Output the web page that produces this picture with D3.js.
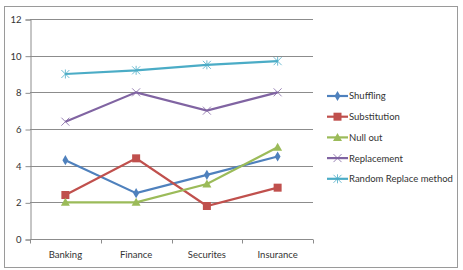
<!DOCTYPE html>
<html>
<head>
<meta charset="utf-8">
<script src="https://cdn.jsdelivr.net/npm/d3@7"></script>
<style>
 body { margin:0; background:#fff; }
 svg text { font-family:Lato, "Open Sans", sans-serif; font-size:9.5px; fill:#333; }
</style>
</head>
<body>
<svg width="463" height="270"></svg>
<script>
const categories = ["Banking", "Finance", "Securites", "Insurance"];
const shuffling = [4.3, 2.5, 3.5, 4.5];
const substitution = [2.4, 4.4, 1.8, 2.8];
const nullOut = [2, 2, 3, 5];
const replacement = [6.4, 8, 7, 8];
const randomReplace = [9, 9.2, 9.5, 9.7];
const yTicks = [0, 2, 4, 6, 8, 10, 12];

const series = [
	{name:"Shuffling", values:shuffling, color:"#4F81BD", marker:"diamond"},
	{name:"Substitution", values:substitution, color:"#C0504D", marker:"square"},
	{name:"Null out", values:nullOut, color:"#9BBB59", marker:"triangle"},
	{name:"Replacement", values:replacement, color:"#8064A2", marker:"x"},
	{name:"Random Replace method", values:randomReplace, color:"#4BACC6", marker:"star"}
];

const svg = d3.select("svg");
const plot = {left:30, right:313, top:19, bottom:239};

// chart border
svg.append("rect")
	.attr("x", 4.5).attr("y", 6.5).attr("width", 453).attr("height", 261)
	.attr("fill", "none").attr("stroke", "#9a9a9a").attr("stroke-width", 1);

const x = d3.scaleBand().domain(categories).range([plot.left, plot.right]);
const y = d3.scaleLinear().domain([0, 12]).range([plot.bottom, plot.top]);

// gridlines
svg.append("g").selectAll("line").data(yTicks.filter(d => d > 0)).join("line")
	.attr("x1", plot.left).attr("x2", plot.right)
	.attr("y1", d => Math.round(y(d)) + 0.5).attr("y2", d => Math.round(y(d)) + 0.5)
	.attr("stroke", "#8c8c8c");

// y axis
const yAxis = svg.append("g").attr("transform", `translate(${plot.left + 0.5},0.5)`)
	.call(d3.axisLeft(y).tickValues(yTicks).tickSize(5).tickPadding(4));
yAxis.select(".domain").attr("stroke", "#8c8c8c");
yAxis.selectAll(".tick line").attr("stroke", "#8c8c8c");
yAxis.selectAll(".tick text").attr("font-size", null).attr("font-family", null);

// x axis with boundary ticks
const xAxis = svg.append("g").attr("transform", `translate(0,${plot.bottom + 0.5})`);
xAxis.append("line").attr("x1", plot.left).attr("x2", plot.right).attr("stroke", "#8c8c8c");
const bounds = categories.map(c => x(c)).concat([plot.right]);
xAxis.selectAll("line.tk").data(bounds).join("line").attr("class", "tk")
	.attr("x1", d => Math.round(d) + 0.5).attr("x2", d => Math.round(d) + 0.5)
	.attr("y1", 0).attr("y2", 4).attr("stroke", "#8c8c8c");
xAxis.selectAll("text").data(categories).join("text")
	.attr("x", d => x(d) + x.bandwidth() / 2).attr("y", 18)
	.attr("text-anchor", "middle").text(d => d);

function drawMarker(g, type, color) {
	if (type === "diamond") {
		g.append("path").attr("d", d3.symbol(d3.symbolDiamond, 30)()).attr("fill", color);
	} else if (type === "square") {
		g.append("rect").attr("x", -4).attr("y", -4).attr("width", 8).attr("height", 8).attr("fill", color);
	} else if (type === "triangle") {
		g.append("path").attr("d", "M0,-4.5L4.5,3.5L-4.5,3.5Z").attr("fill", color);
	} else if (type === "x") {
		g.append("path").attr("d", "M-4,-4L4,4M-4,4L4,-4").attr("stroke", color).attr("stroke-width", 0.8).attr("fill", "none");
	} else {
		g.append("path").attr("d", "M-4,-4L4,4M-4,4L4,-4M0,-4.5L0,4.5").attr("stroke", color).attr("stroke-width", 0.8).attr("fill", "none");
	}
}

const line = d3.line().x((d, i) => x(categories[i]) + x.bandwidth() / 2).y(d => y(d));

series.forEach(s => {
	svg.append("path").datum(s.values).attr("d", line)
		.attr("fill", "none").attr("stroke", s.color).attr("stroke-width", 2.2);
	s.values.forEach((v, i) => {
		const g = svg.append("g")
			.attr("transform", `translate(${x(categories[i]) + x.bandwidth() / 2},${y(v)})`);
		drawMarker(g, s.marker, s.color);
	});
});

// legend
const legend = svg.append("g");
series.forEach((s, i) => {
	const ly = 96 + i * 20.7;
	legend.append("line").attr("x1", 327).attr("x2", 348).attr("y1", ly).attr("y2", ly)
		.attr("stroke", s.color).attr("stroke-width", 2.2);
	const g = legend.append("g").attr("transform", `translate(337.5,${ly})`);
	drawMarker(g, s.marker, s.color);
	legend.append("text").attr("x", 349).attr("y", ly + 3.4).text(s.name);
});
</script>
</body>
</html>
